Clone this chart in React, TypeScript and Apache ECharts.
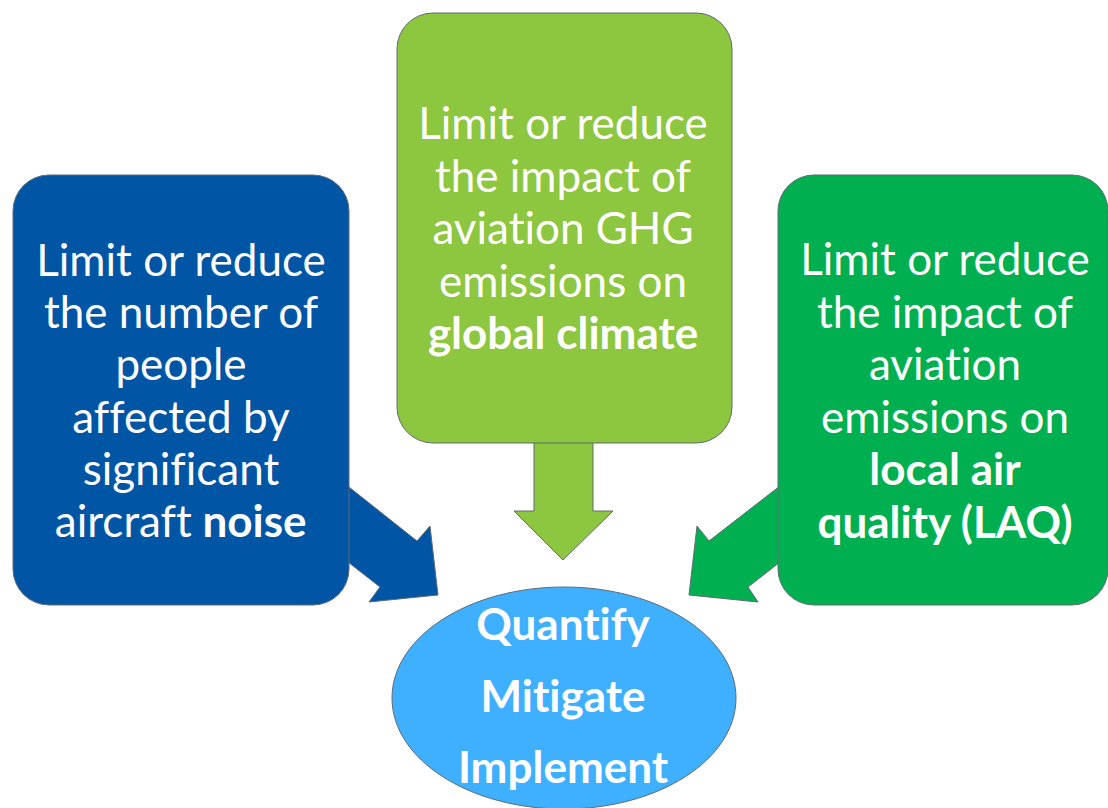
import React, { useEffect, useRef } from "react";
import * as echarts from "echarts";

const leftLines = ["Limit or reduce", "the number of", "people", "affected by", "significant", "aircraft {b|noise}"];
const middleLines = ["Limit or reduce", "the impact of", "aviation GHG", "emissions on", "{b|global climate}"];
const rightLines = ["Limit or reduce", "the impact of", "aviation", "emissions on", "{b|local air}", "{b|quality (LAQ)}"];
const centerLines = ["Quantify", "Mitigate", "Implement"];

const FONT = "Lato, 'Open Sans', sans-serif";
const STROKE = "#5f6b73";

export default function App() {
  const ref = useRef<HTMLDivElement>(null);
  useEffect(() => {
    if (!ref.current) return;
    const chart = echarts.init(ref.current, null, { renderer: "svg" });

    const textBlock = (lines: string[], cx: number, y0: number, step: number, bold: boolean, size: number) =>
      lines.map((l, i) => ({
        type: "text",
        z: 10,
        style: {
          text: l,
          x: cx,
          y: y0 + i * step,
          align: "center",
          verticalAlign: "middle",
          fill: "#ffffff",
          font: `${bold ? "bold " : ""}${size}px ${FONT}`,
          rich: {
            b: { fontWeight: "bold", fontSize: size, fontFamily: FONT, fill: "#ffffff", color: "#ffffff" },
          },
        },
      }));

    const arrowStyle = (c: string) => ({ fill: c, stroke: STROKE, lineWidth: 1 });

    chart.setOption({
      animation: false,
      backgroundColor: "#ffffff",
      graphic: [
        {
          type: "polygon",
          z: 1,
          shape: { points: [[330, 472], [417, 541], [430, 526], [438, 595], [369, 602], [380, 587], [330, 548]] },
          style: arrowStyle("#0055A5"),
        },
        {
          type: "polygon",
          z: 1,
          shape: { points: [[534, 430], [593, 430], [593, 511], [613, 511], [563, 560], [514, 511], [534, 511]] },
          style: arrowStyle("#8DC63F"),
        },
        {
          type: "polygon",
          z: 1,
          shape: { points: [[798, 472], [709, 541], [697, 526], [689, 595], [758, 602], [748, 587], [798, 548]] },
          style: arrowStyle("#00B050"),
        },
        {
          type: "rect",
          z: 2,
          shape: { x: 13, y: 175, width: 336, height: 430, r: 36 },
          style: { fill: "#0055A5", stroke: STROKE, lineWidth: 1 },
        },
        {
          type: "rect",
          z: 2,
          shape: { x: 397, y: 13, width: 335, height: 430, r: 36 },
          style: { fill: "#8DC63F", stroke: STROKE, lineWidth: 1 },
        },
        {
          type: "rect",
          z: 2,
          shape: { x: 778, y: 175, width: 330, height: 430, r: 36 },
          style: { fill: "#00B050", stroke: STROKE, lineWidth: 1 },
        },
        {
          type: "ellipse",
          z: 3,
          shape: { cx: 564, cy: 698, rx: 172, ry: 111 },
          style: { fill: "#3FAFFF", stroke: STROKE, lineWidth: 1 },
        },
        ...textBlock(leftLines, 181, 259, 52.2, false, 44),
        ...textBlock(middleLines, 563, 122, 52.5, false, 44),
        ...textBlock(rightLines, 945, 258, 52.6, false, 44),
        ...textBlock(centerLines, 563, 623, 71.5, true, 44),
      ],
    });
    return () => chart.dispose();
  }, []);
  return (
    <>
      <style>{"svg text, svg tspan { font-variant-ligatures: none !important; font-feature-settings: 'liga' 0, 'dlig' 0, 'clig' 0 !important; }"}</style>
      <div ref={ref} style={{ position: "fixed", left: 0, top: 0, width: 1108, height: 808 }} />
    </>
  );
}
